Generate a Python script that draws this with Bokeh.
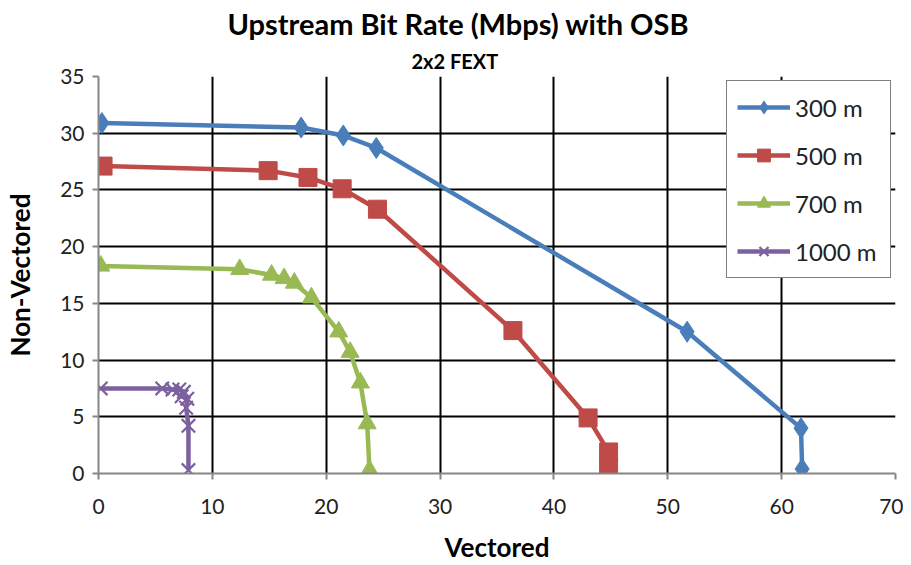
from bokeh.plotting import figure
from bokeh.models import Title, SingleIntervalTicker
from bokeh.embed import file_html
from bokeh.resources import INLINE

# ---- data ----
series_names = ["300 m", "500 m", "700 m", "1000 m"]
x300 = [0.3, 17.8, 21.5, 24.4, 51.7, 61.7, 61.8]
y300 = [30.9, 30.5, 29.8, 28.7, 12.5, 4.0, 0.4]
x500 = [0.4, 14.9, 18.4, 21.4, 24.5, 36.4, 43.0, 44.8, 44.8]
y500 = [27.1, 26.7, 26.1, 25.1, 23.3, 12.6, 4.9, 1.9, 0.6]
x700 = [0.2, 12.4, 15.2, 16.3, 17.2, 18.7, 21.1, 22.1, 23.0, 23.6, 23.8]
y700 = [18.3, 18.0, 17.5, 17.2, 16.8, 15.5, 12.5, 10.7, 8.0, 4.4, 0.3]
x1000 = [0.2, 5.6, 6.5, 7.1, 7.5, 7.3, 7.8, 7.7, 7.9, 7.9]
y1000 = [7.5, 7.5, 7.4, 7.4, 7.2, 6.8, 6.6, 5.8, 4.2, 0.3]

FONT = "Lato"

p = figure(width=903, height=565, x_range=(0, 70), y_range=(0, 35),
           output_backend="svg", toolbar_location=None, title=None,
           min_border_left=98, min_border_right=8, min_border_top=76,
           min_border_bottom=92)

p.add_layout(Title(text="2x2 FEXT", align="left", text_font=FONT,
                   text_font_size="20px", text_font_style="bold",
                   text_color="black", standoff=8, offset=313), "above")
p.add_layout(Title(text="Upstream Bit Rate (Mbps) with OSB", align="left",
                   text_font=FONT, text_font_size="29px",
                   text_font_style="bold", text_color="black", standoff=4,
                   offset=129), "above")

styles = [
    (x300, y300, "#4A7EBB", "diamond", 21),
    (x500, y500, "#BE4B48", "square", 18),
    (x700, y700, "#98B954", "triangle", 18),
    (x1000, y1000, "#7D60A0", "x", 19),
]
for name, (xs, ys, col, mk, sz) in zip(series_names, styles):
    p.line(xs, ys, line_color=col, line_width=4.5, legend_label=name)
    if mk == "x":
        p.scatter(xs, ys, marker=mk, size=sz, line_color=col, line_width=2.2,
                  legend_label=name)
    else:
        p.scatter(xs, ys, marker=mk, size=sz, fill_color=col,
                  line_color=col, legend_label=name)

p.xaxis.ticker = SingleIntervalTicker(interval=10)
p.yaxis.ticker = SingleIntervalTicker(interval=5)
p.axis.minor_tick_line_color = None
p.axis.major_tick_in = 0
p.axis.major_tick_out = 6
p.axis.axis_line_color = "#868686"
p.axis.axis_line_width = 2
p.axis.major_tick_line_color = "#868686"
p.axis.major_tick_line_width = 2
p.axis.major_label_text_font = FONT
p.axis.major_label_text_font_size = "21px"
p.axis.major_label_text_color = "#222222"
p.axis.axis_label_text_font = FONT
p.axis.axis_label_text_font_size = "26px"
p.axis.axis_label_text_font_style = "bold"
p.axis.axis_label_text_color = "black"
p.xaxis.axis_label = "Vectored"
p.yaxis.axis_label = "Non-Vectored"
p.xaxis.major_label_standoff = 19
p.yaxis.major_label_standoff = 8
p.xaxis.axis_label_standoff = 14
p.yaxis.axis_label_standoff = 21

p.grid.grid_line_color = "black"
p.grid.grid_line_width = 2
p.outline_line_color = None

lg = p.legend[0]
lg.location = "top_right"
lg.margin = 4
lg.padding = 10
lg.spacing = 16
lg.border_line_color = "black"
lg.border_line_width = 1.5
lg.background_fill_color = "white"
lg.background_fill_alpha = 1
lg.label_text_font = FONT
lg.label_text_font_size = "24px"
lg.label_text_color = "#222222"
lg.glyph_width = 53
lg.glyph_height = 32
lg.label_height = 32
lg.label_width = 85
lg.label_standoff = 5

open("out.html", "w").write(file_html(p, INLINE))
